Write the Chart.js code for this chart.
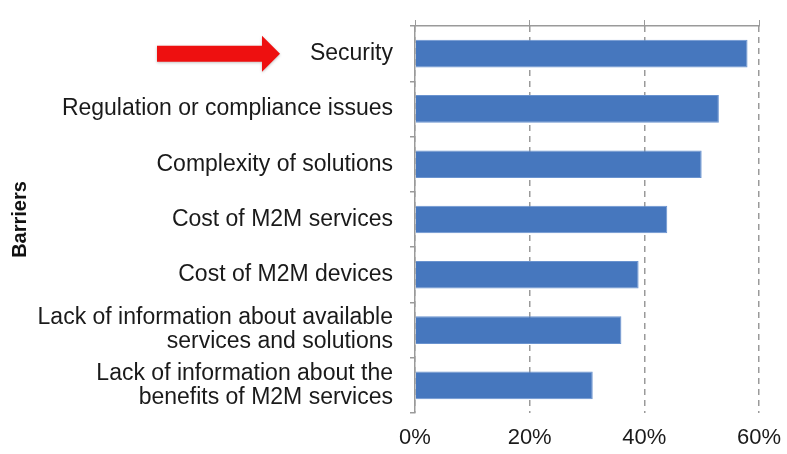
<!DOCTYPE html>
<html>
<head>
<meta charset="utf-8">
<script src="https://cdn.jsdelivr.net/npm/chart.js@4"></script>
<style>
  html, body { margin: 0; padding: 0; background: #fff; }
  #wrap { width: 787px; height: 454px; position: relative; }
</style>
</head>
<body>
<div id="wrap"><canvas id="barchart"></canvas></div>
<script>
const barriers = [
    'Security',
    'Regulation or compliance issues',
    'Complexity of solutions',
    'Cost of M2M services',
    'Cost of M2M devices',
    ['Lack of information about available', 'services and solutions'],
    ['Lack of information about the', 'benefits of M2M services']
]
const shares = [58, 53, 50, 44, 39, 36, 31]
const xTicks = [0, 20, 40, 60]

const fontFamily = '"Liberation Sans", Arial, Helvetica, sans-serif'
const axisGrey = '#9a9a9a'

// red arrow pointing at the first category label
const arrowPlugin = {
    id: 'arrow',
    afterDraw(chart) {
        const c = chart.ctx
        const y = chart.scales.y.getPixelForValue(0)
        c.save()
        c.fillStyle = '#ee1010'
        c.shadowColor = 'rgba(0,0,0,0.25)'
        c.shadowBlur = 3
        c.shadowOffsetY = 1
        c.beginPath()
        c.moveTo(157, y - 8)
        c.lineTo(262, y - 8)
        c.lineTo(262, y - 18)
        c.lineTo(280, y)
        c.lineTo(262, y + 18)
        c.lineTo(262, y + 8)
        c.lineTo(157, y + 8)
        c.closePath()
        c.fill()
        c.restore()
    }
}

const noSidePad = s => { s.paddingLeft = 0; s.paddingRight = 0 }

const ctx = document.getElementById('barchart').getContext('2d')
const barchart = new Chart(ctx, {
    type: 'bar',
    data: {
        labels: barriers,
        datasets: [{
            label: 'Barriers',
            data: shares,
            backgroundColor: '#4677be',
            borderColor: '#6a93cf',
            borderWidth: 1,
            barPercentage: 0.5,
            categoryPercentage: 1.0
        }]
    },
    options: {
        indexAxis: 'y',
        responsive: true,
        maintainAspectRatio: false,
        animation: false,
        layout: { padding: { top: 20, right: 28, left: 0, bottom: 0 } },
        plugins: {
            legend: { display: false },
            tooltip: { enabled: false }
        },
        scales: {
            x: {
                position: 'bottom',
                min: 0,
                max: 60,
                afterBuildTicks: s => { s.ticks = xTicks.map(v => ({ value: v })) },
                afterFit: s => { s.height = 41; noSidePad(s) },
                grid: { color: axisGrey, lineWidth: 1.5, drawTicks: false },
                border: { display: false, dash: [6, 5] },
                ticks: {
                    padding: 12,
                    color: '#1a1a1a',
                    font: { family: fontFamily, size: 22 },
                    callback: v => v + '%'
                }
            },
            x2: {
                position: 'top',
                min: 0,
                max: 60,
                afterBuildTicks: s => { s.ticks = xTicks.map(v => ({ value: v })) },
                afterFit: s => { s.height = 6; noSidePad(s) },
                grid: { color: axisGrey, drawOnChartArea: false, tickLength: 6 },
                border: { display: true, color: axisGrey, width: 1.5 },
                ticks: { display: false }
            },
            y: {
                afterFit: s => { s.width = 415; s.paddingTop = 0; s.paddingBottom = 0 },
                grid: { color: axisGrey, drawOnChartArea: false, tickLength: 5, lineWidth: 1.5 },
                border: { display: true, color: axisGrey, width: 1.5 },
                ticks: {
                    padding: 17,
                    color: '#1a1a1a',
                    font: { family: fontFamily, size: 23, lineHeight: 1.05 }
                },
                title: {
                    display: true,
                    text: 'Barriers',
                    color: '#111',
                    padding: { top: 8, bottom: 0 },
                    font: { family: fontFamily, size: 20, weight: 'bold' }
                }
            }
        }
    },
    plugins: [arrowPlugin]
})
</script>
</body>
</html>
